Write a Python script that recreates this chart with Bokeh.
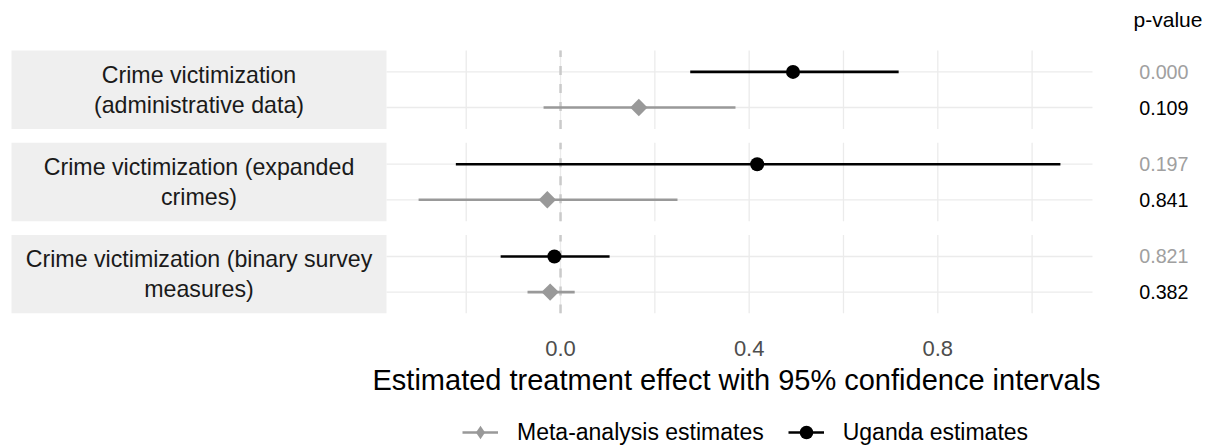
import math
from bokeh.plotting import figure
from bokeh.layouts import column
from bokeh.models import Range1d, FixedTicker, NumeralTickFormatter, Legend, LegendItem, Title
from bokeh.core.properties import value
from bokeh.embed import file_html
from bokeh.resources import INLINE

# ---------------- data ----------------
facets = [
    "Crime victimization\n(administrative data)",
    "Crime victimization (expanded\ncrimes)",
    "Crime victimization (binary survey\nmeasures)",
]
uganda_est = [0.493, 0.417, -0.013]
uganda_lo = [0.275, -0.222, -0.127]
uganda_hi = [0.717, 1.060, 0.104]
meta_est = [0.166, -0.028, -0.022]
meta_lo = [-0.036, -0.301, -0.070]
meta_hi = [0.371, 0.248, 0.030]
p_row1 = ["0.000", "0.197", "0.821"]
p_row2 = ["0.109", "0.841", "0.382"]
pvalue_header = "p-value"
major_ticks = [0.0, 0.4, 0.8]
minor_ticks = [-0.2, 0.2, 0.6, 1.0]
series_labels = ["Meta-analysis estimates", "Uganda estimates"]
x_title = "Estimated treatment effect with 95% confidence intervals"

# ---------------- layout constants (pixels) ----------------
FONT = value("Liberation Sans")
GREY = "#999999"
W = 1210
H_MAIN, H_LEG = 402, 45
BOTTOM = 89                  # space below the panels (axis + title)
PANEL_LEFT, PANEL_RIGHT = 386, 1092
STRIP_LEFT = 11
PV_RIGHT = 1188
PV_HEAD_X = 1167.5
TOP_PAD = 50                 # px above first panel

PANEL_H = 2.2
GAP = 0.39
n = len(facets)
tops = [-(k * (PANEL_H + GAP)) for k in range(n)]
bottoms = [t - PANEL_H for t in tops]
mids = [(t + b) / 2 for t, b in zip(tops, bottoms)]
y_ug = [t - 0.6 for t in tops]
y_meta = [t - 1.6 for t in tops]
frame_h = H_MAIN - BOTTOM
y_px = (frame_h - TOP_PAD) / (tops[0] - bottoms[-1])   # px per y-unit
y_range = Range1d(bottoms[-1], tops[0] + TOP_PAD / y_px)
y_head = tops[0] + (TOP_PAD - 19) / y_px

lo = min(uganda_lo + meta_lo)
hi = max(uganda_hi + meta_hi)
pad = 0.05 * (hi - lo)
panel_lo, panel_hi = lo - pad, hi + pad
x_px = (PANEL_RIGHT - PANEL_LEFT) / (panel_hi - panel_lo)   # px per x-unit
x_start = panel_lo - PANEL_LEFT / x_px
x_end = panel_hi + (W - PANEL_RIGHT) / x_px


def sx(px):
    return x_start + px / x_px


p = figure(width=W, height=H_MAIN, x_range=Range1d(x_start, x_end), y_range=y_range,
           toolbar_location=None, output_backend="svg", y_axis_type=None,
           min_border_top=0, min_border_left=0, min_border_right=0,
           min_border_bottom=BOTTOM, outline_line_color=None,
           background_fill_color="white", border_fill_color="white")
p.xgrid.visible = False
p.ygrid.visible = False

# strips
p.quad(left=sx(STRIP_LEFT), right=panel_lo, top=tops, bottom=bottoms,
       fill_color="#EFEFEF", line_color=None)
p.text(x=[sx((STRIP_LEFT + PANEL_LEFT) / 2)] * n, y=mids, text=facets,
       text_align="center", text_baseline="middle", text_font=FONT,
       text_font_size="23.2px", text_line_height=1.16, text_color="#1A1A1A")

# panel grid lines
gx0, gx1, gy0, gy1 = [], [], [], []
for t, b in zip(tops, bottoms):
    for v in major_ticks + minor_ticks:
        gx0.append(v); gx1.append(v); gy0.append(b); gy1.append(t)
for y in y_ug + y_meta:
    gx0.append(panel_lo); gx1.append(panel_hi); gy0.append(y); gy1.append(y)
p.segment(x0=gx0, y0=gy0, x1=gx1, y1=gy1, line_color="#EBEBEB", line_width=1.3)

# zero reference line
p.segment(x0=[0] * n, y0=bottoms, x1=[0] * n, y1=tops,
          line_color="#CACACA", line_width=2.5, line_dash="9 9")

# estimates
SEG_META = dict(line_color=GREY, line_width=2.6)
SEG_UG = dict(line_color="black", line_width=2.6)
PT_META = dict(marker="square", angle=math.pi / 4, size=12.3, fill_color=GREY, line_color=None)
PT_UG = dict(marker="circle", size=14, fill_color="black", line_color=None)

p.segment(x0=meta_lo, y0=y_meta, x1=meta_hi, y1=y_meta, **SEG_META)
p.segment(x0=uganda_lo, y0=y_ug, x1=uganda_hi, y1=y_ug, **SEG_UG)
p.scatter(x=meta_est, y=y_meta, **PT_META)
p.scatter(x=uganda_est, y=y_ug, **PT_UG)

# p-values
p.text(x=[sx(PV_RIGHT)] * n, y=y_ug, text=p_row1, text_align="right",
       text_baseline="middle", text_font=FONT, text_font_size="19.7px",
       text_color="#A0A0A0")
p.text(x=[sx(PV_RIGHT)] * n, y=y_meta, text=p_row2, text_align="right",
       text_baseline="middle", text_font=FONT, text_font_size="19.7px",
       text_color="#000000")
p.text(x=[sx(PV_HEAD_X)], y=[y_head], text=[pvalue_header], text_align="center",
       text_baseline="middle", text_font=FONT, text_font_size="21px",
       text_color="#000000")

# x axis
ax = p.xaxis[0]
ax.ticker = FixedTicker(ticks=major_ticks)
ax.formatter = NumeralTickFormatter(format="0.0")
ax.axis_line_color = None
ax.major_tick_line_color = None
ax.minor_tick_line_color = None
ax.major_label_text_font = "Liberation Sans"
ax.major_label_text_font_size = "22px"
ax.major_label_text_color = "#4D4D4D"
ax.major_label_standoff = 21

# axis title (centred over the panels)
p.add_layout(Title(text=x_title, align="left", offset=372, standoff=6,
                   text_font="Liberation Sans", text_font_size="29px",
                   text_font_style="normal", text_color="#000000"), "below")

# ---------------- legend strip ----------------
lg = figure(width=W, height=H_LEG, x_range=Range1d(0, 1), y_range=Range1d(0, 1),
            toolbar_location=None, output_backend="svg",
            x_axis_type=None, y_axis_type=None, min_border=0,
            outline_line_color=None, background_fill_color="white",
            border_fill_color="white")
lg.xgrid.visible = False
lg.ygrid.visible = False
# key renderers: one point each, placed outside the visible range
OFF = [-5.0]
k_meta_seg = lg.segment(x0=OFF, y0=OFF, x1=OFF, y1=OFF, **SEG_META)
k_meta_pt = lg.scatter(x=OFF, y=OFF, marker="diamond", size=12,
                       fill_color=GREY, line_color=None)
k_ug_seg = lg.segment(x0=OFF, y0=OFF, x1=OFF, y1=OFF, **SEG_UG)
k_ug_pt = lg.scatter(x=OFF, y=OFF, **PT_UG)
legend = Legend(
    items=[LegendItem(label=series_labels[0], renderers=[k_meta_seg, k_meta_pt]),
           LegendItem(label=series_labels[1], renderers=[k_ug_seg, k_ug_pt])],
    location=(462, -2), orientation="horizontal",
    border_line_color=None, background_fill_alpha=0, padding=0, margin=0,
    glyph_width=36, glyph_height=34, label_standoff=19, spacing=24,
    label_text_font="Liberation Sans", label_text_font_size="23px",
    label_text_color="#000000",
)
lg.add_layout(legend)

open("out.html", "w").write(file_html(column(p, lg), INLINE))
